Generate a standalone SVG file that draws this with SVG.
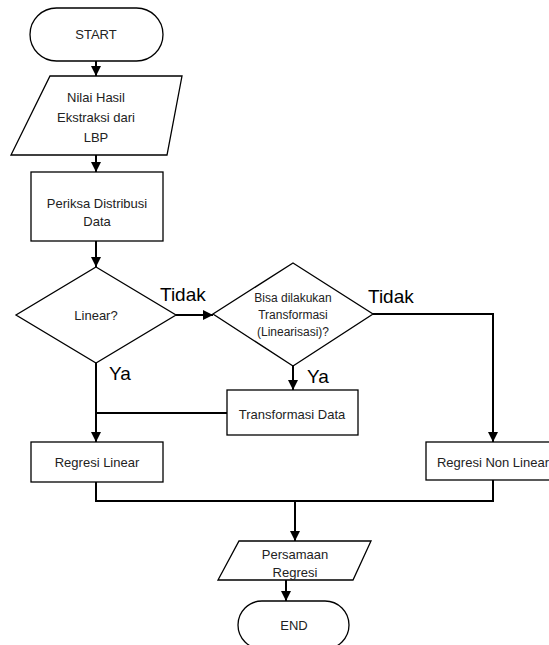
<svg xmlns="http://www.w3.org/2000/svg" width="549" height="645" viewBox="0 0 549 645">
<defs>
<marker id="arr" viewBox="0 0 10 10" refX="10" refY="5" markerWidth="10" markerHeight="10" markerUnits="userSpaceOnUse" orient="auto">
<path d="M0,0 L10,5 L0,10 Z" fill="#000"/>
</marker>
<style>
.s{fill:#fff;stroke:#000;stroke-width:1.3}
.t{font-family:"Liberation Sans",Arial,sans-serif;font-size:13px;fill:#222;text-anchor:middle;dominant-baseline:central}
.d{font-size:12px}
.lb{font-family:"Liberation Sans",Arial,sans-serif;font-size:19px;fill:#000}
.c{fill:none;stroke:#000;stroke-width:2}
</style>
</defs>
<rect width="549" height="645" fill="#fff"/>
<g id="connectors">
<path class="c" d="M96,61 V76" marker-end="url(#arr)"/>
<path class="c" d="M96,155 V172" marker-end="url(#arr)"/>
<path class="c" d="M96,241 V267" marker-end="url(#arr)"/>
<path class="c" d="M176,315 H213" marker-end="url(#arr)"/>
<path class="c" d="M96,363 V442" marker-end="url(#arr)"/>
<path class="c" d="M293,366 V390" marker-end="url(#arr)"/>
<path class="c" d="M227,413 H96"/>
<path class="c" d="M373,314 H493 V442" marker-end="url(#arr)"/>
<path class="c" d="M96,482 V501 H493 V480"/>
<path class="c" d="M295,501 V541" marker-end="url(#arr)"/>
<path class="c" d="M286,580 V601" marker-end="url(#arr)"/>
<text class="lb" x="160" y="301">Tidak</text>
<text class="lb" x="368" y="303">Tidak</text>
<text class="lb" x="109" y="380">Ya</text>
<text class="lb" x="307" y="383">Ya</text>
</g>
<g id="start">
<rect class="s" x="30" y="8" width="133" height="53" rx="26.5"/>
<text class="t" x="96" y="34">START</text>
</g>
<g id="input">
<polygon class="s" points="50,76 182,76 167,155 11,155"/>
<text class="t" x="96" y="97">Nilai Hasil</text>
<text class="t" x="96" y="117">Ekstraksi dari</text>
<text class="t" x="96" y="137">LBP</text>
</g>
<g id="periksa">
<rect class="s" x="31" y="172" width="132" height="69"/>
<text class="t" x="97" y="203">Periksa Distribusi</text>
<text class="t" x="97" y="221">Data</text>
</g>
<g id="linear">
<polygon class="s" points="96,267 176,315 96,363 16,315"/>
<text class="t" x="96" y="315">Linear?</text>
</g>
<g id="bisa">
<polygon class="s" points="293,263 373,314 293,366 213,314"/>
<text class="t d" x="293" y="298">Bisa dilakukan</text>
<text class="t d" x="293" y="315">Transformasi</text>
<text class="t d" x="293" y="332">(Linearisasi)?</text>
</g>
<g id="transformasi">
<rect class="s" x="227" y="390" width="131" height="45"/>
<text class="t" x="292" y="414">Transformasi Data</text>
</g>
<g id="regresi-linear">
<rect class="s" x="31" y="442" width="132" height="40"/>
<text class="t" x="97" y="462">Regresi Linear</text>
</g>
<g id="regresi-non-linear">
<rect class="s" x="426" y="442" width="134" height="38"/>
<text class="t" x="493" y="462">Regresi Non Linear</text>
</g>
<g id="persamaan">
<polygon class="s" points="239,541 371,541 353,580 218,580"/>
<text class="t" x="295" y="554">Persamaan</text>
<text class="t" x="295" y="572">Regresi</text>
</g>
<g id="end">
<rect class="s" x="238" y="601" width="111" height="48" rx="24"/>
<text class="t" x="294" y="625">END</text>
</g>
</svg>
